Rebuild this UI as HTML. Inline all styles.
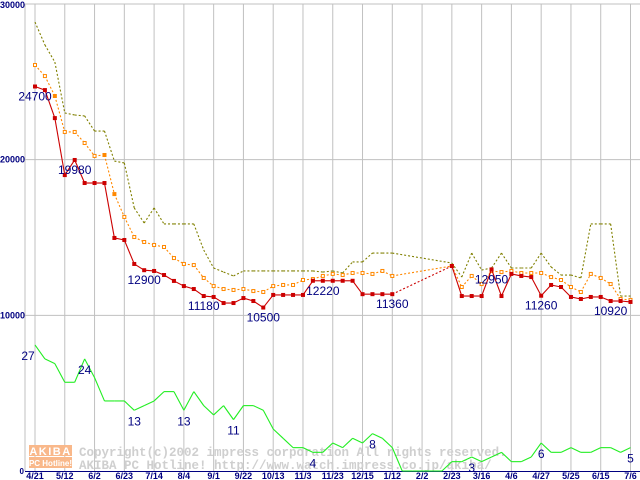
<!DOCTYPE html>
<html><head><meta charset="utf-8"><style>
html,body{margin:0;padding:0;background:#fff;}
svg{display:block;font-family:"Liberation Sans",sans-serif;}
</style></head><body>
<svg id="chart" width="640" height="480" viewBox="0 0 640 480" xmlns="http://www.w3.org/2000/svg">
<g id="grid"></g>
<g id="wm">
<rect x="29" y="445" width="43" height="11" fill="#f9b88a"/>
<rect x="29" y="457" width="43" height="11" fill="#f9b88a"/>
<text x="50.5" y="455" font-size="11" font-weight="bold" fill="#fff" text-anchor="middle" letter-spacing="1.5">AKIBA</text>
<text x="50.5" y="466" font-size="8" font-weight="bold" fill="#fff" text-anchor="middle">PC Hotline!</text>
<text x="79" y="456" font-family="Liberation Mono,monospace" font-size="12.5" font-weight="bold" fill="#cfcfcf">Copyright(c)2002 impress corporation All rights reserved.</text>
<text x="79" y="469" font-family="Liberation Mono,monospace" font-size="12.5" font-weight="bold" fill="#cfcfcf">AKIBA PC Hotline!  http://www.watch.impress.co.jp/akiba/</text>
</g>
<g id="series"></g>
<g id="labels"></g>
</svg>
<script>
const xLabels=["4/21","5/12","6/2","6/23","7/14","8/4","9/1","9/22","10/13","11/3","11/23","12/15","1/12","2/2","2/23","3/16","4/6","4/27","5/25","6/15","7/6"];
const yTicks=[0,10000,20000,30000];
const N=null;
const redVals=[24700,24470,22670,19010,19980,18500,18500,18500,14970,14840,13300,12900,12850,12590,12210,11880,11690,11240,11180,10790,10790,11110,10920,10500,11310,11310,11310,11310,12220,12220,12220,12220,12220,11360,11360,11360,11360,N,N,N,N,N,13170,11240,11240,11240,12950,11240,12660,12530,12460,11260,11950,11820,11180,11050,11180,11180,10920,10920,10860];
const orangeVals=[26080,25370,24090,21780,21780,21070,20240,20300,17790,16320,15030,14710,14520,14390,13680,13300,13230,12400,11880,11690,11630,11690,11560,11500,11880,11950,11950,12270,12330,12530,12660,12590,12720,12720,12660,12850,12530,N,N,N,N,N,13170,11820,12530,12010,12850,12780,12850,12720,12720,12720,12460,12270,11820,11500,12660,12400,12010,11050,10990];
const oliveVals=[28840,27370,26270,23000,22870,22810,21840,21840,19910,19790,16900,15930,16900,15870,15870,15870,15870,14200,13040,12780,12530,12850,12850,12850,12850,12850,12850,12850,12850,12780,12850,12720,13430,13430,14000,14000,14000,N,N,N,N,N,13360,12460,14000,12910,13040,14000,13040,13040,13040,14000,13110,12590,12590,12400,15870,15870,15870,11240,11240];
const greenVals=[27,24,23,19,19,24,20,15,15,15,13,14,15,17,17,13,17,14,12,14,11,14,14,13,9,7,5,5,4,4,6,5,7,6,8,7,5,0,0,0,0,0,2,2,3,2,3,4,2,2,3,6,4,4,5,4,4,5,5,4,5];
const priceLabelIdx=[0,4,11,17,23,29,36,46,51,58];
const priceLabelText=["24700","19980","12900","11180","10500","12220","11360","12950","11260","10920"];
const countLabelIdx=[0,5,10,15,20,28,34,44,51,60];
const countLabelText=["27","24","13","13","11","4","8","3","6","5"];

const NS="http://www.w3.org/2000/svg";
const X0=35,DX=9.925,Y0=471,H=467;
const xs=i=>X0+i*DX;
const yp=v=>Y0-v*H/30000;
const yc=v=>Y0-v*H/100;
function mk(tag,attrs,parent){const e=document.createElementNS(NS,tag);for(const k in attrs)e.setAttribute(k,attrs[k]);parent.appendChild(e);return e;}
const grid=document.getElementById('grid'),ser=document.getElementById('series'),lab=document.getElementById('labels');

let e=mk('line',{x1:25,y1:4,x2:25,y2:Y0,stroke:'#c0c0c0'},grid);


yTicks.forEach(v=>{
 const y=yp(v);
 if(v>0){const l=mk('line',{x1:25,x2:640,y1:y,y2:y,stroke:'#c0c0c0'},grid);
 
 }
 const t=mk('text',{x:v===0?24:25,y:v===30000?8:y+3,'font-size':v===0?8:9,'font-weight':'bold',fill:'#000080','text-anchor':'end'},grid);
 t.textContent=String(v);
 
 
});
xLabels.forEach((s,k)=>{
 const x=xs(k*3);
 const l=mk('line',{x1:x,x2:x,y1:4,y2:Y0,stroke:'#c0c0c0'},grid);
 
 
 const t=mk('text',{x:x,y:479,'font-size':9,'font-weight':'bold',fill:'#000080','text-anchor':'middle'},grid);
 t.textContent=s;
 
 
});
e=mk('line',{x1:25,x2:640,y1:Y0+0.5,y2:Y0+0.5,stroke:'#000080'},grid);



function drawSeries(vals,ymap,color,dash,name,marker,hollow){
 const g=mk('g',{},ser);
 
 
 let prev=-1;
 for(let i=0;i<vals.length;i++){
  if(vals[i]===null)continue;
  if(prev>=0){
   const gap=i-prev>1;
   const a={x1:xs(prev),y1:ymap(vals[prev]),x2:xs(i),y2:ymap(vals[i]),stroke:color,'stroke-width':1.1};
   if(dash||gap)a['stroke-dasharray']='2,2';
   mk('line',a,g);
  }
  prev=i;
 }
 if(marker){vals.forEach((v,i)=>{if(v===null)return;
  const m=mk('rect',{x:xs(i)-1.5,y:ymap(v)-1.5,width:3,height:3,fill:hollow&&![2,7,8].includes(i)?'#fff':color,stroke:color,'stroke-width':1},g);
  
  
 });}
}
drawSeries(greenVals,yc,'#22ee22',false,'count-series',false,false);
drawSeries(oliveVals,yp,'#808000',true,'max-price-series',false,false);
drawSeries(orangeVals,yp,'#ff8800',true,'avg-price-series',true,true);
drawSeries(redVals,yp,'#cc0000',false,'min-price-series',true,false);

priceLabelIdx.forEach((i,k)=>{
 const t=mk('text',{x:xs(i),y:yp(redVals[i])+14,'font-size':12,fill:'#000080','text-anchor':'middle'},lab);
 t.textContent=priceLabelText[k];
 
 
});
countLabelIdx.forEach((i,k)=>{
 const t=mk('text',{x:xs(i)-(i===0?7:0),y:yc(greenVals[i])+15,'font-size':12,fill:'#000080','text-anchor':'middle'},lab);
 t.textContent=countLabelText[k];
 
 
});
</script>
</body></html>
